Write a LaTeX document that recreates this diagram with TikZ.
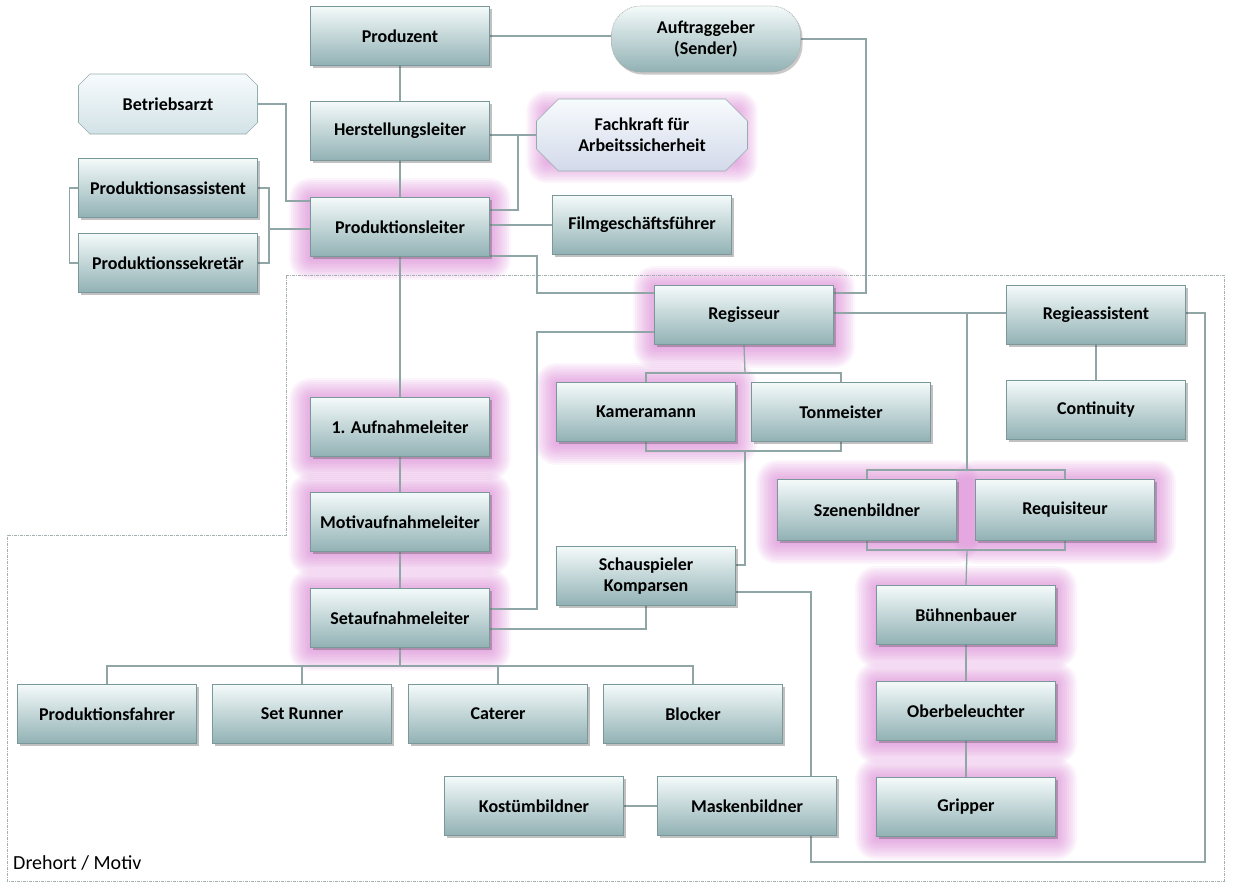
\documentclass[tikz,border=0pt]{standalone}
\usepackage{fontspec}
\setmainfont{Carlito}
\usetikzlibrary{shadows,shapes.misc,backgrounds}
\definecolor{boxtop}{HTML}{F4FAFA}
\definecolor{boxbot}{HTML}{91B1B4}
\definecolor{boxline}{HTML}{7A9799}
\definecolor{conn}{HTML}{8FA5A6}
\definecolor{glowc}{HTML}{D474CE}
\definecolor{octtop}{HTML}{F7FBFD}
\definecolor{octbot}{HTML}{D2E2E7}
\definecolor{octbotb}{HTML}{D3D9EA}
\definecolor{framec}{HTML}{A3AFB0}
\pgfdeclarelayer{glow}
\pgfdeclarelayer{bg}
\pgfsetlayers{glow,bg,main}
\tikzset{
  box/.style={rectangle, draw=boxline, line width=0.7pt, top color=boxtop, bottom color=boxbot,
    minimum width=179pt, minimum height=59pt, inner sep=2pt, align=center,
    font=\bfseries\fontsize{18}{21}\selectfont,
    drop shadow={shadow xshift=2pt, shadow yshift=-2.5pt, opacity=0.35, fill=black!70}},
  octbox/.style={chamfered rectangle, chamfered rectangle angle=45, chamfered rectangle xsep=20pt,
    draw=boxline!80, line width=0.6pt, top color=octtop, bottom color=octbot,
    minimum width=179pt, minimum height=60pt, inner sep=2pt, align=center,
    font=\bfseries\fontsize{18}{21}\selectfont},
  pill/.style={rectangle, rounded corners=29pt, draw=gray!70, dash pattern=on 1pt off 1pt, line width=0.6pt,
    top color=boxtop, bottom color=boxbot, minimum width=189pt, minimum height=66pt, inner sep=2pt,
    align=center, font=\bfseries\fontsize{18}{21}\selectfont,
    drop shadow={shadow xshift=2pt, shadow yshift=-2.5pt, opacity=0.3, fill=black!70}},
  conn/.style={draw=conn, line width=1.3pt},
  framest/.style={draw=framec, line width=1pt, dash pattern=on 3pt off 1pt on 1pt off 1pt}
}
\begin{document}
\begin{tikzpicture}[x=1pt,y=-1pt]
\useasboundingbox (0,0) rectangle (1236,889);
% nodes
\node[box] (prod) at (400,36) {Produzent};
\node[pill] (auf) at (706,39) {Auftraggeber\\(Sender)};
\node[box] (hl) at (400,131) {Herstellungsleiter};
\node[octbox] (ba) at (168,104) {Betriebsarzt};
\node[octbox, bottom color=octbotb, minimum width=211pt, minimum height=72pt] (fach) at (642,135) {Fachkraft für\\Arbeitssicherheit};
\node[box] (pa) at (168,188) {Produktionsassistent};
\node[box] (ps) at (168,263) {Produktionssekretär};
\node[box] (pl) at (400,227) {Produktionsleiter};
\node[box] (fgf) at (642,225) {Filmgeschäftsführer};
\node[box] (reg) at (744,315) {Regisseur};
\node[box] (ra) at (1096,315) {Regieassistent};
\node[box] (cont) at (1096,410) {Continuity};
\node[box] (kam) at (646,412) {Kameramann};
\node[box] (ton) at (841,412) {Tonmeister};
\node[box] (a1) at (400,427) {1. Aufnahmeleiter};
\node[box] (mot) at (400,522) {Motivaufnahmeleiter};
\node[box, minimum height=61pt] (sz) at (867,510) {Szenenbildner};
\node[box, minimum height=61pt] (req) at (1065,510) {Requisiteur};
\node[box] (schau) at (646,576) {Schauspieler\\Komparsen};
\node[box] (set) at (400,618) {Setaufnahmeleiter};
\node[box] (bb) at (966,615) {Bühnenbauer};
\node[box] (ob) at (966,711) {Oberbeleuchter};
\node[box] (gr) at (966,807) {Gripper};
\node[box] (pf) at (107,714) {Produktionsfahrer};
\node[box] (sr) at (302,714) {Set Runner};
\node[box] (cat) at (498,714) {Caterer};
\node[box] (blk) at (693,714) {Blocker};
\node[box] (kost) at (534,806) {Kostümbildner};
\node[box] (mask) at (747,806) {Maskenbildner};
\node[anchor=west, font=\fontsize{20}{24}\selectfont, inner sep=0pt] (dm) at (13,863) {Drehort / Motiv};
% coordinates for bends
\coordinate (k1) at (286,201);
\coordinate (k2) at (268,229);
\coordinate (k3) at (518,210);
\coordinate (k4) at (537,256);
\coordinate (k5) at (537,293);
\coordinate (k6) at (866,293);
\coordinate (k7) at (537,332);
\coordinate (k8) at (537,609);
\coordinate (k9) at (646,629);
\coordinate (k10) at (745,373);
\coordinate (k11) at (745,451);
\coordinate (k12) at (745,565);
\coordinate (k13) at (811,592);
\coordinate (k14) at (811,862);
\coordinate (k15) at (1205,862);
\coordinate (k16) at (1205,313);
\coordinate (k17) at (967,313);
\coordinate (k18) at (967,470);
\coordinate (k19) at (967,550);
\coordinate (k20) at (400,666);
\begin{pgfonlayer}{bg}
\draw[framest] (286,275) -- (1224,275) -- (1224,881) -- (7,881) -- (7,535) -- (286,535) -- cycle;
\draw[conn] (prod) -- (hl);
\draw[conn] (hl) -- (pl);
\draw[conn] (pl) -- (a1);
\draw[conn] (a1) -- (mot);
\draw[conn] (mot) -- (set);
\draw[conn] (prod.east) -- (prod.east -| auf.west);
\draw[conn] (auf.east) -| (k6) -- (k6 -| reg.east);
\draw[conn] (ba.east) -| (k1) -- (k1 -| pl.west);
\draw[conn] (pa.west) -- ++(-9,0) |- (ps.west);
\draw[conn] (pa.east) -- ++(11,0) |- (ps.east);
\draw[conn] (k2) -- (k2 -| pl.west);
\draw[conn] (fach.west) -- (fach.west -| hl.east);
\draw[conn] (k3 |- fach.west) -- (k3) -- (k3 -| pl.east);
\draw[conn] (fgf.west) -- (fgf.west -| pl.east);
\draw[conn] (k4 -| pl.east) -- (k4) -- (k5) -- (k5 -| reg.west);
\draw[conn] (k7 -| reg.west) -- (k7) -- (k8) -- (k8 -| set.east);
\draw[conn] (k9 -| set.east) -- (k9) -- (schau.south);
\draw[conn] (reg.south) -- (k10);
\draw[conn] (kam.north) |- (k10) -| (ton.north);
\draw[conn] (kam.south) |- (k11) -| (ton.south);
\draw[conn] (k11) -- (k12) -- (k12 -| schau.east);
\draw[conn] (k13 -| schau.east) -- (k13) -- (k13 |- mask.north);
\draw[conn] (k14 |- mask.south) -- (k14) -- (k15) -- (k16) -- (k16 -| ra.east);
\draw[conn] (k16 -| reg.east) -- (k16 -| ra.west);
\draw[conn] (ra) -- (cont);
\draw[conn] (k17) -- (k18);
\draw[conn] (sz.north) |- (k18) -| (req.north);
\draw[conn] (sz.south) |- (k19) -| (req.south);
\draw[conn] (k19) -- (bb.north);
\draw[conn] (bb) -- (ob);
\draw[conn] (ob) -- (gr);
\draw[conn] (set.south) -- (k20);
\draw[conn] (pf.north) |- (k20) -| (blk.north);
\draw[conn] (sr.north) -- (sr.north |- k20);
\draw[conn] (cat.north) -- (cat.north |- k20);
\draw[conn] (kost) -- (mask);
\end{pgfonlayer}
\begin{pgfonlayer}{glow}
\foreach \n in {fach,pl,reg,kam,sz,req,bb,ob,gr,a1,mot,set}{
  \foreach \r in {1,3,...,21}{
    \fill[glowc, opacity=0.075, rounded corners=\r pt]
      ([shift={(-\r pt,-\r pt-2pt)}]\n.south west) rectangle ([shift={(\r pt,\r pt-2pt)}]\n.north east);
  }
}
\end{pgfonlayer}
\end{tikzpicture}
\end{document}
